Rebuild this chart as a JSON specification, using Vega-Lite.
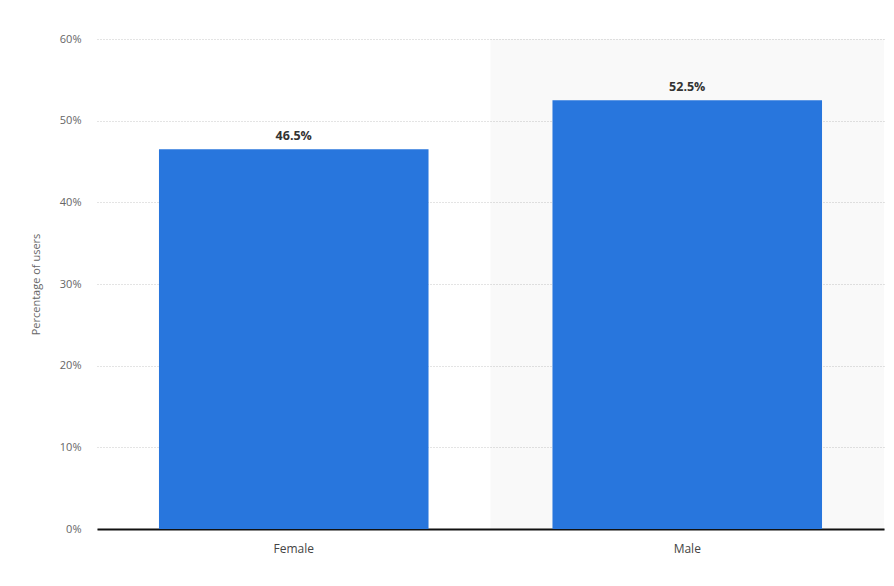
{
  "$schema": "https://vega.github.io/schema/vega-lite/v6.json",
  "width": 787,
  "height": 490,
  "autosize": {"type": "none"},
  "padding": {"left": 97, "top": 39, "right": 10, "bottom": 57},
  "background": "white",
  "config": {
    "view": {"stroke": null},
    "font": "Open Sans",
    "axisY": {
      "grid": true, "gridColor": "#c8c8c8", "gridDash": [1, 2], "gridWidth": 1,
      "domain": false, "ticks": false, "labelPadding": 16,
      "labelColor": "#666", "labelFontSize": 11, "labelFont": "Open Sans",
      "titleColor": "#666", "titleFontSize": 11, "titleFontWeight": "normal", "titleFont": "Open Sans",
      "titlePadding": 18
    },
    "axisX": {
      "grid": false, "ticks": false, "domainColor": "#111", "domainWidth": 2,
      "labelColor": "#444", "labelFontSize": 12, "labelFont": "Open Sans", "labelPadding": 14, "labelAngle": 0
    }
  },
  "data": {"values": [
    {"gender": "Female", "share": 0.465},
    {"gender": "Male", "share": 0.525}
  ]},
  "encoding": {
    "x": {"field": "gender", "type": "nominal", "sort": ["Female", "Male"],
      "scale": {"domain": ["Female", "Male"], "paddingInner": 0.315, "paddingOuter": 0.1575},
      "axis": {"title": null}}
  },
  "layer": [
    {
      "transform": [{"filter": "datum.gender === 'Male'"}],
      "mark": {"type": "bar", "fill": "#000", "fillOpacity": 0.025, "width": {"band": 1.46}},
      "encoding": {
        "y": {"datum": 0.6, "type": "quantitative", "scale": {"domain": [0, 0.6]},
          "axis": {"title": "Percentage of users", "values": [0, 0.1, 0.2, 0.3, 0.4, 0.5, 0.6], "format": ".0%"}},
        "y2": {"datum": 0}
      }
    },
    {
      "mark": {"type": "bar", "color": "#2876dd"},
      "encoding": {
        "y": {"field": "share", "type": "quantitative", "scale": {"domain": [0, 0.6]},
          "axis": {"title": "Percentage of users", "values": [0, 0.1, 0.2, 0.3, 0.4, 0.5, 0.6], "format": ".0%"}}
      }
    },
    {
      "mark": {"type": "text", "baseline": "bottom", "dy": -6, "fontWeight": "bold", "fontSize": 12.5, "color": "#333", "font": "Open Sans"},
      "encoding": {
        "y": {"field": "share", "type": "quantitative"},
        "text": {"field": "share", "format": ".1%"}
      }
    }
  ]
}
